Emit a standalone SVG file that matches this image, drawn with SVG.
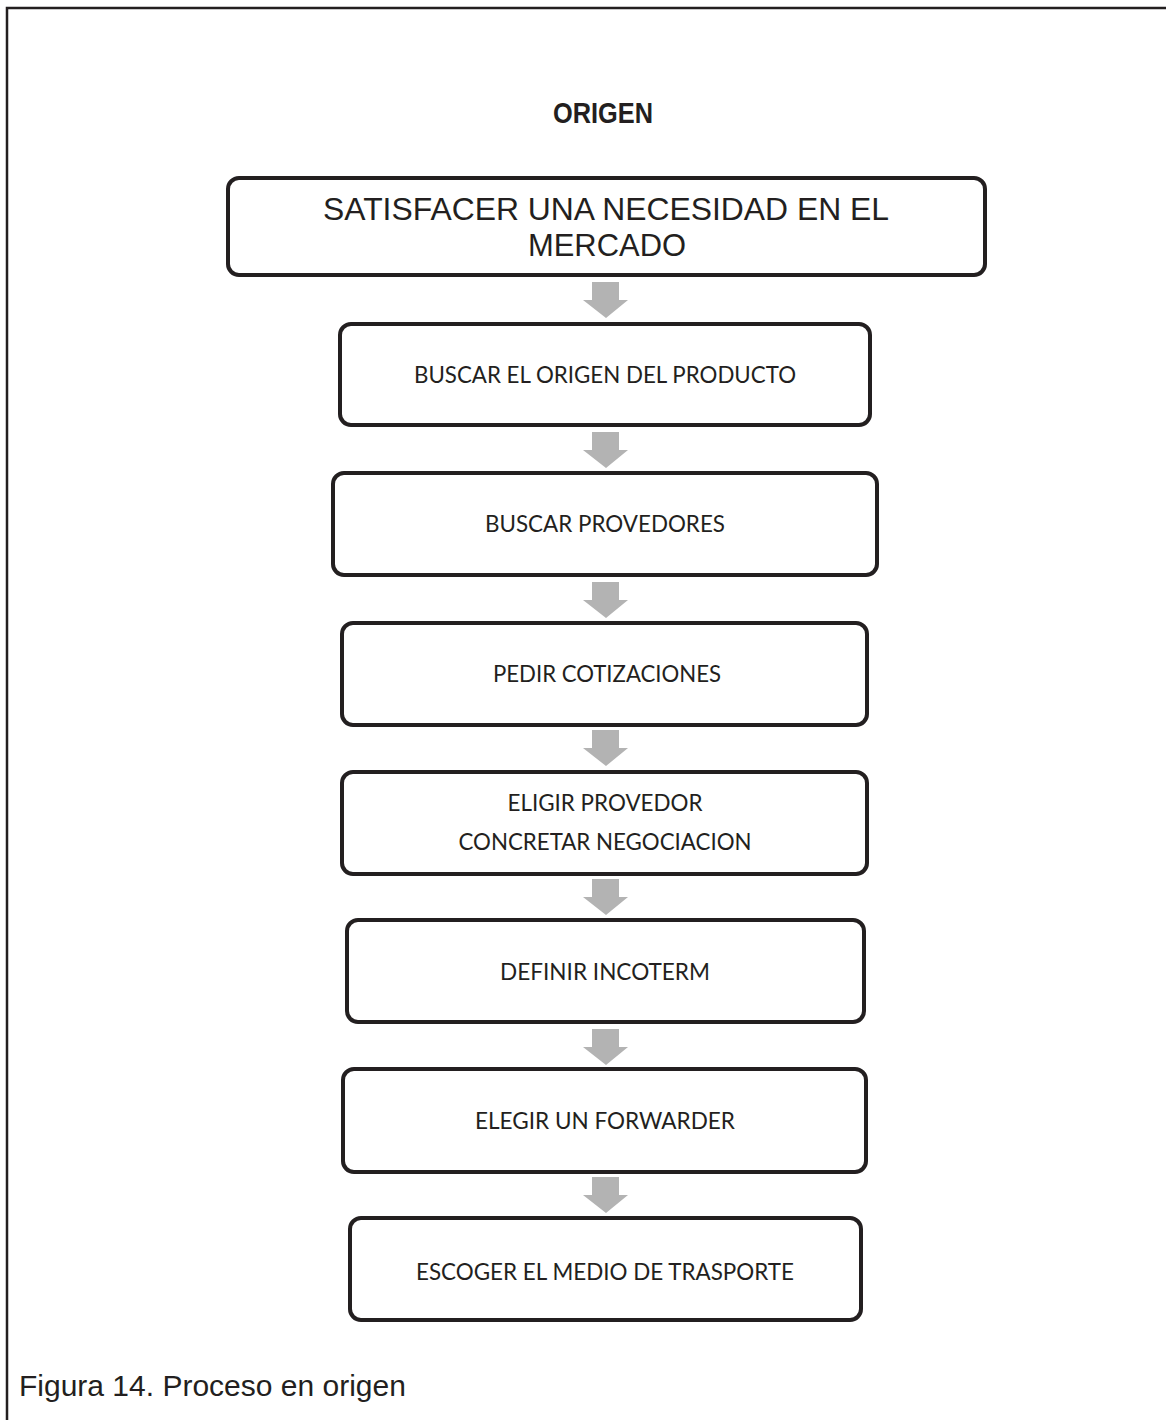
<svg xmlns="http://www.w3.org/2000/svg" width="1166" height="1420" viewBox="0 0 1166 1420">
<defs>
<style>
.frame{fill:none;stroke:#231f20;stroke-width:2.5}
.box{fill:#ffffff;stroke:#231f20;stroke-width:4}
.t{font-family:Lato,"Open Sans",sans-serif;font-size:23px;fill:#231f20;text-anchor:middle}
.big{font-family:"Liberation Sans",Arial,sans-serif;font-size:31px;fill:#231f20;text-anchor:middle}
.title{font-family:"Liberation Sans",Arial,sans-serif;font-size:30px;font-weight:bold;fill:#231f20;text-anchor:middle}
.cap{font-family:"Liberation Sans",Arial,sans-serif;font-size:30px;fill:#231f20}
.arr{fill:#b3b3b3}
</style>
<path id="arrow" class="arr" d="M-14,0 H13 V18 H22 L0,36 L-23,18 H-14 Z"/>
</defs>
<rect width="1166" height="1420" fill="#ffffff"/>
<path class="frame" d="M7,1420 V8 H1166"/>
<text class="title" x="603" y="123" textLength="100" lengthAdjust="spacingAndGlyphs">ORIGEN</text>

<g id="connectors">
<use href="#arrow" x="606" y="282"/>
<use href="#arrow" x="606" y="432"/>
<use href="#arrow" x="606" y="582"/>
<use href="#arrow" x="606" y="730"/>
<use href="#arrow" x="606" y="879"/>
<use href="#arrow" x="606" y="1029"/>
<use href="#arrow" x="606" y="1177"/>
</g>

<g id="n1">
<rect class="box" x="228" y="178" width="757" height="97" rx="11"/>
<text class="big" x="606" y="220" textLength="566" lengthAdjust="spacingAndGlyphs">SATISFACER UNA NECESIDAD EN EL</text>
<text class="big" x="607" y="256" textLength="158" lengthAdjust="spacingAndGlyphs">MERCADO</text>
</g>
<g id="n2">
<rect class="box" x="340" y="324" width="530" height="101" rx="11"/>
<text class="t" x="605" y="383" textLength="382" lengthAdjust="spacingAndGlyphs">BUSCAR EL ORIGEN DEL PRODUCTO</text>
</g>
<g id="n3">
<rect class="box" x="333" y="473" width="544" height="102" rx="11"/>
<text class="t" x="605" y="532" textLength="240" lengthAdjust="spacingAndGlyphs">BUSCAR PROVEDORES</text>
</g>
<g id="n4">
<rect class="box" x="342" y="623" width="525" height="102" rx="11"/>
<text class="t" x="607" y="682" textLength="228" lengthAdjust="spacingAndGlyphs">PEDIR COTIZACIONES</text>
</g>
<g id="n5">
<rect class="box" x="342" y="772" width="525" height="102" rx="11"/>
<text class="t" x="605" y="811" textLength="195" lengthAdjust="spacingAndGlyphs">ELIGIR PROVEDOR</text>
<text class="t" x="605" y="850" textLength="293" lengthAdjust="spacingAndGlyphs">CONCRETAR NEGOCIACION</text>
</g>
<g id="n6">
<rect class="box" x="347" y="920" width="517" height="102" rx="11"/>
<text class="t" x="605" y="980" textLength="210" lengthAdjust="spacingAndGlyphs">DEFINIR INCOTERM</text>
</g>
<g id="n7">
<rect class="box" x="343" y="1069" width="523" height="103" rx="11"/>
<text class="t" x="605" y="1129" textLength="260" lengthAdjust="spacingAndGlyphs">ELEGIR UN FORWARDER</text>
</g>
<g id="n8">
<rect class="box" x="350" y="1218" width="511" height="102" rx="11"/>
<text class="t" x="605" y="1280" textLength="378" lengthAdjust="spacingAndGlyphs">ESCOGER EL MEDIO DE TRASPORTE</text>
</g>

<text class="cap" x="19" y="1396">Figura 14. Proceso en origen</text>
</svg>
